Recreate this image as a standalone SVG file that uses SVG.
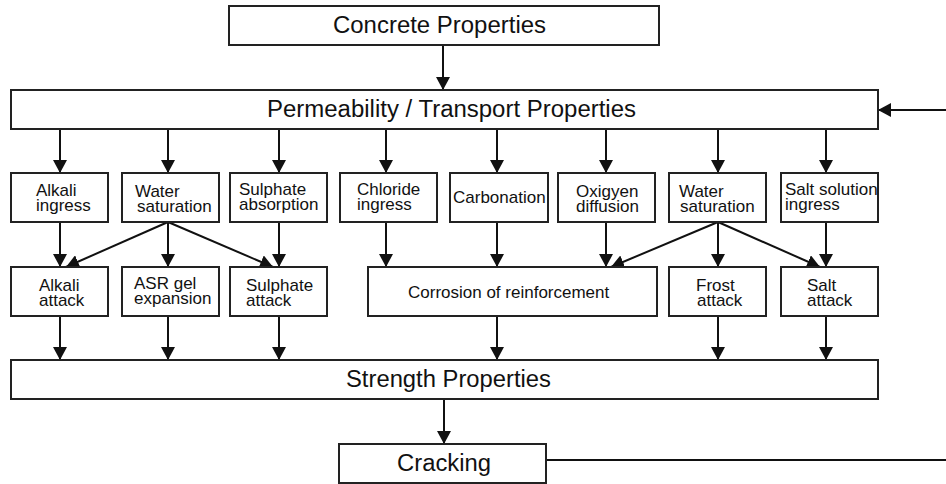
<svg xmlns="http://www.w3.org/2000/svg" width="946" height="484" viewBox="0 0 946 484">
<style>
.box{fill:#fff;stroke:#222;stroke-width:2}
.big{font-family:"Liberation Sans",Arial,sans-serif;font-size:23px;fill:#111}
.sm{font-family:"Liberation Sans",Arial,sans-serif;font-size:17px;fill:#111}
.c{stroke:#111;stroke-width:2;fill:none}
.a{marker-end:url(#ah)}
</style>
<defs>
<marker id="ah" markerUnits="userSpaceOnUse" markerWidth="13" markerHeight="14" refX="13" refY="7" orient="auto" viewBox="0 0 13 14">
<path d="M0,0 L13,7 L0,14 z" fill="#111"/>
</marker>
</defs>
<rect width="946" height="484" fill="#fff"/>
<g id="connectors">
<line class="c a" x1="443" y1="45" x2="443" y2="90"/>
<line class="c a" x1="946" y1="110" x2="878" y2="110"/>
<line class="c a" x1="60" y1="129" x2="60" y2="173"/>
<line class="c a" x1="168" y1="129" x2="168" y2="173"/>
<line class="c a" x1="279" y1="129" x2="279" y2="173"/>
<line class="c a" x1="386" y1="129" x2="386" y2="173"/>
<line class="c a" x1="497" y1="129" x2="497" y2="173"/>
<line class="c a" x1="606" y1="129" x2="606" y2="173"/>
<line class="c a" x1="718" y1="129" x2="718" y2="173"/>
<line class="c a" x1="826" y1="129" x2="826" y2="173"/>
<line class="c a" x1="60" y1="222" x2="60" y2="267"/>
<line class="c a" x1="168" y1="222" x2="66" y2="267"/>
<line class="c a" x1="168" y1="222" x2="168" y2="267"/>
<line class="c a" x1="168" y1="222" x2="273" y2="267"/>
<line class="c a" x1="279" y1="222" x2="279" y2="267"/>
<line class="c a" x1="386" y1="222" x2="386" y2="267"/>
<line class="c a" x1="497" y1="222" x2="497" y2="267"/>
<line class="c a" x1="606" y1="222" x2="606" y2="267"/>
<line class="c a" x1="718" y1="222" x2="611" y2="267"/>
<line class="c a" x1="718" y1="222" x2="718" y2="267"/>
<line class="c a" x1="718" y1="222" x2="820" y2="267"/>
<line class="c a" x1="826" y1="222" x2="826" y2="267"/>
<line class="c a" x1="60" y1="316" x2="60" y2="360"/>
<line class="c a" x1="168" y1="316" x2="168" y2="360"/>
<line class="c a" x1="279" y1="316" x2="279" y2="360"/>
<line class="c a" x1="497" y1="316" x2="497" y2="360"/>
<line class="c a" x1="718" y1="316" x2="718" y2="360"/>
<line class="c a" x1="826" y1="316" x2="826" y2="360"/>
<line class="c a" x1="444" y1="399" x2="444" y2="444"/>
<line class="c" x1="546" y1="460" x2="946" y2="460"/>
</g>
<g id="concrete"><rect class="box" x="229" y="6" width="430" height="39"/><text class="big" x="333" y="33" textLength="213" lengthAdjust="spacingAndGlyphs">Concrete Properties</text></g>
<g id="permeability"><rect class="box" x="11" y="90" width="867" height="39"/><text class="big" x="267" y="117" textLength="369" lengthAdjust="spacingAndGlyphs">Permeability / Transport Properties</text></g>
<g id="alkali-ingress"><rect class="box" x="11" y="173" width="97" height="49"/><text class="sm" x="36" y="196">Alkali</text><text class="sm" x="36" y="211">ingress</text></g>
<g id="water-sat-1"><rect class="box" x="122" y="173" width="97" height="49"/><text class="sm" x="135" y="197">Water</text><text class="sm" x="137" y="212">saturation</text></g>
<g id="sulphate-abs"><rect class="box" x="230" y="173" width="97" height="49"/><text class="sm" x="239" y="195">Sulphate</text><text class="sm" x="239" y="210">absorption</text></g>
<g id="chloride"><rect class="box" x="340" y="173" width="97" height="49"/><text class="sm" x="357" y="195">Chloride</text><text class="sm" x="357" y="210">ingress</text></g>
<g id="carbonation"><rect class="box" x="450" y="173" width="98" height="49"/><text class="sm" x="453" y="203">Carbonation</text></g>
<g id="oxigyen"><rect class="box" x="558" y="173" width="97" height="49"/><text class="sm" x="576" y="197">Oxigyen</text><text class="sm" x="576" y="212">diffusion</text></g>
<g id="water-sat-2"><rect class="box" x="669" y="173" width="97" height="49"/><text class="sm" x="679" y="197">Water</text><text class="sm" x="680" y="212">saturation</text></g>
<g id="salt-solution"><rect class="box" x="781" y="173" width="97" height="49"/><text class="sm" x="785" y="195">Salt solution</text><text class="sm" x="785" y="210">ingress</text></g>
<g id="alkali-attack"><rect class="box" x="11" y="267" width="97" height="49"/><text class="sm" x="39" y="291">Alkali</text><text class="sm" x="39" y="306">attack</text></g>
<g id="asr"><rect class="box" x="122" y="267" width="97" height="49"/><text class="sm" x="134" y="289">ASR gel</text><text class="sm" x="134" y="304">expansion</text></g>
<g id="sulphate-attack"><rect class="box" x="230" y="267" width="97" height="49"/><text class="sm" x="246" y="291">Sulphate</text><text class="sm" x="246" y="306">attack</text></g>
<g id="corrosion"><rect class="box" x="368" y="267" width="289" height="49"/><text class="sm" x="408" y="298">Corrosion of reinforcement</text></g>
<g id="frost"><rect class="box" x="669" y="267" width="97" height="49"/><text class="sm" x="696" y="291">Frost</text><text class="sm" x="697" y="306">attack</text></g>
<g id="salt-attack"><rect class="box" x="781" y="267" width="97" height="49"/><text class="sm" x="807" y="291">Salt</text><text class="sm" x="807" y="306">attack</text></g>
<g id="strength"><rect class="box" x="11" y="360" width="867" height="39"/><text class="big" x="346" y="387" textLength="205" lengthAdjust="spacingAndGlyphs">Strength Properties</text></g>
<g id="cracking"><rect class="box" x="339" y="444" width="207" height="39"/><text class="big" x="397" y="471" textLength="94" lengthAdjust="spacingAndGlyphs">Cracking</text></g>
</svg>
